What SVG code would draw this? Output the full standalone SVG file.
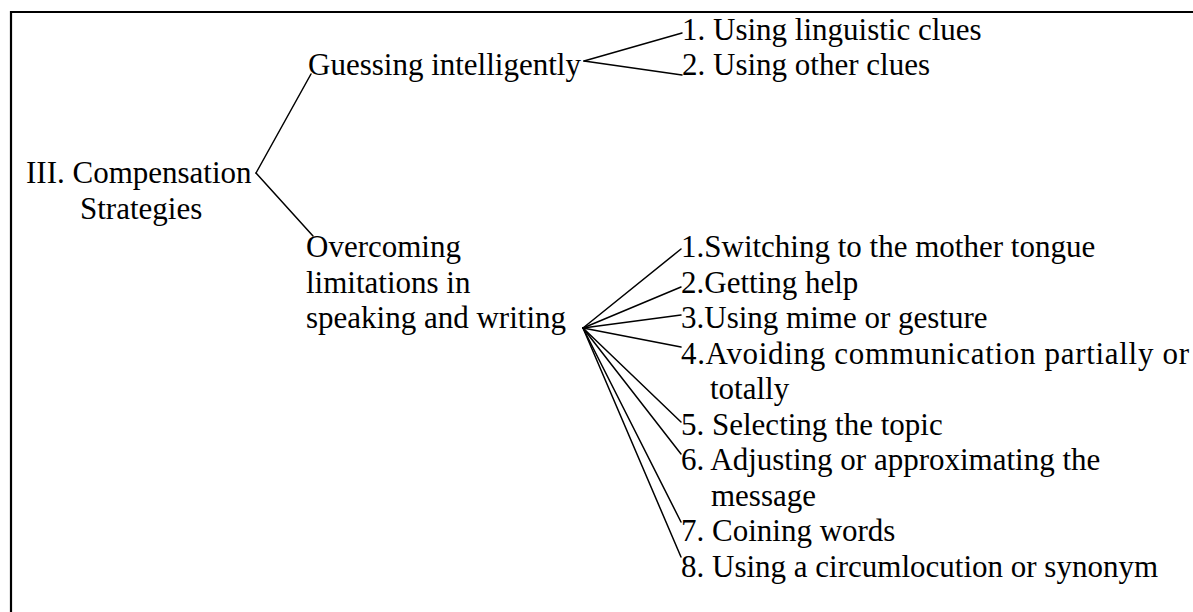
<svg xmlns="http://www.w3.org/2000/svg" width="1193" height="612" viewBox="0 0 1193 612">
  <style>
    text { font-family: "Liberation Serif", "Times New Roman", serif; font-size: 31px; fill: #000; }
    .frame { fill: none; stroke: #000; stroke-width: 2.2; }
    .link { fill: none; stroke: #000; stroke-width: 1.5; stroke-linecap: round; }
  </style>
  <rect width="1193" height="612" fill="#fff"/>

  <!-- page frame: top and left edges only -->
  <path class="frame" d="M11,612 V12 H1193"/>

  <!-- tree connectors -->
  <g id="connectors">
    <path class="link" d="M256,173 L311,74"/>
    <path class="link" d="M256,173 L313,236"/>
    <path class="link" d="M584,61 L682,33"/>
    <path class="link" d="M584,61 L682,75"/>
    <path class="link" d="M583,328 L681,249"/>
    <path class="link" d="M583,328 L681,287"/>
    <path class="link" d="M583,328 L681,315"/>
    <path class="link" d="M583,328 L681,347"/>
    <path class="link" d="M583,328 L681,422"/>
    <path class="link" d="M583,328 L681,454"/>
    <path class="link" d="M583,328 L681,522"/>
    <path class="link" d="M583,328 L681,557"/>
  </g>

  <g id="root">
    <text x="26" y="183">III. Compensation</text>
    <text x="80" y="218.5">Strategies</text>
  </g>

  <g id="guessing">
    <text x="308" y="75">Guessing intelligently</text>
  </g>
  <g id="guess-1"><text x="682" y="40">1. Using linguistic clues</text></g>
  <g id="guess-2"><text x="682" y="75">2. Using other clues</text></g>

  <g id="overcoming">
    <text x="306" y="257">Overcoming</text>
    <text x="306" y="292.5">limitations in</text>
    <text x="306" y="328">speaking and writing</text>
  </g>
  <g id="over-1"><text x="681" y="257">1.Switching to the mother tongue</text></g>
  <g id="over-2"><text x="681" y="292.5">2.Getting help</text></g>
  <g id="over-3"><text x="681" y="328">3.Using mime or gesture</text></g>
  <g id="over-4">
    <text x="681" y="363.5" textLength="508" lengthAdjust="spacing">4.Avoiding communication partially or</text>
    <text x="710" y="399">totally</text>
  </g>
  <g id="over-5"><text x="681" y="434.5">5. Selecting the topic</text></g>
  <g id="over-6">
    <text x="681" y="470">6. Adjusting or approximating the</text>
    <text x="711" y="505.5">message</text>
  </g>
  <g id="over-7"><text x="681" y="541">7. Coining words</text></g>
  <g id="over-8"><text x="681" y="576.5">8. Using a circumlocution or synonym</text></g>
</svg>
